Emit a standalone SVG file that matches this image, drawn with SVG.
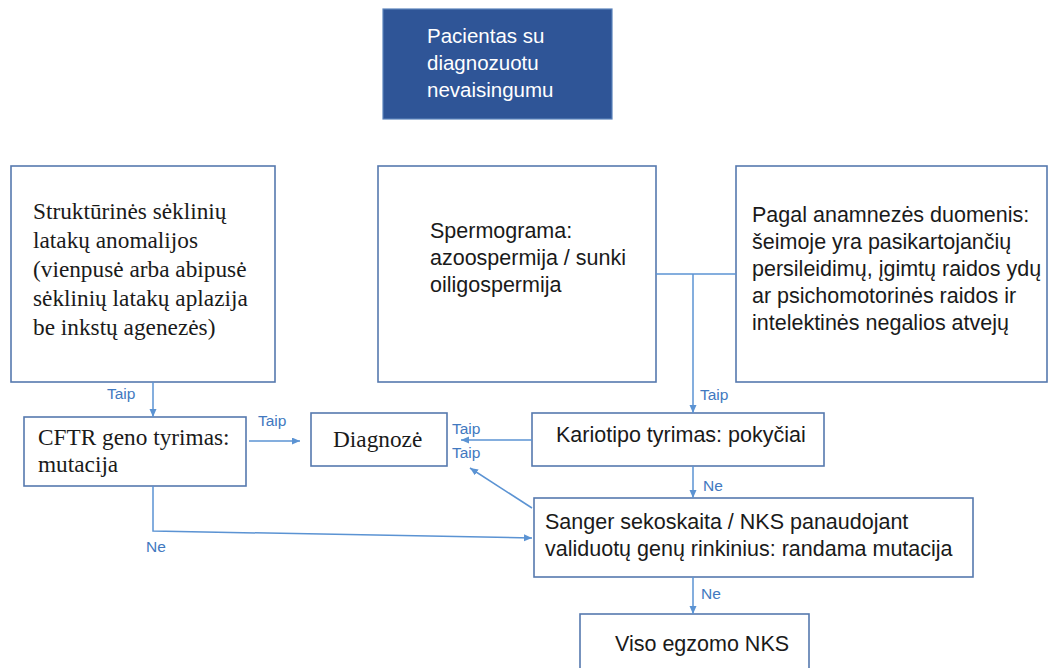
<svg xmlns="http://www.w3.org/2000/svg" width="1049" height="668" viewBox="0 0 1049 668">
<defs>
<style>
.box{fill:#ffffff;stroke:#5679AE;stroke-width:1.6}
.top{fill:#2F5597;stroke:#5B83BB;stroke-width:1.2}
.sans{font-family:"Liberation Sans",Arial,sans-serif;font-size:21.5px;fill:#1a1a1a}
.serif{font-family:"Liberation Serif","Times New Roman",serif;font-size:23.3px;fill:#1a1a1a}
.white{font-family:"Liberation Sans",Arial,sans-serif;font-size:20.5px;fill:#ffffff}
.lbl{font-family:"Liberation Sans",Arial,sans-serif;font-size:15.5px;fill:#4279C0}
.ln{fill:none;stroke:#5B93D3;stroke-width:1.5}
</style>
<marker id="ah" markerUnits="userSpaceOnUse" markerWidth="9" markerHeight="8" refX="8" refY="3.5" orient="auto">
<path d="M0,0 L8,3.5 L0,7 z" fill="#5B93D3"/>
</marker>
</defs>
<rect width="1049" height="668" fill="#ffffff"/>

<g id="node-pacientas">
<rect class="top" x="383" y="9" width="229" height="110"/>
<text class="white" x="427" y="43">Pacientas su</text>
<text class="white" x="427" y="70">diagnozuotu</text>
<text class="white" x="427" y="97">nevaisingumu</text>
</g>

<g id="node-strukturines">
<rect class="box" x="11" y="166" width="264" height="216"/>
<text class="serif" x="33" y="219">Struktūrinės sėklinių</text>
<text class="serif" x="33" y="248">latakų anomalijos</text>
<text class="serif" x="33" y="277">(vienpusė arba abipusė</text>
<text class="serif" x="33" y="306">sėklinių latakų aplazija</text>
<text class="serif" x="33" y="335">be inkstų agenezės)</text>
</g>

<g id="node-spermograma">
<rect class="box" x="378" y="166" width="278" height="216"/>
<text class="sans" x="430" y="238">Spermograma:</text>
<text class="sans" x="430" y="265">azoospermija / sunki</text>
<text class="sans" x="430" y="292">oiligospermija</text>
</g>

<g id="node-anamneze">
<rect class="box" x="736" y="166" width="311" height="216"/>
<text class="sans" x="752" y="222">Pagal anamnezės duomenis:</text>
<text class="sans" x="752" y="249">šeimoje yra pasikartojančių</text>
<text class="sans" x="752" y="276">persileidimų, įgimtų raidos ydų</text>
<text class="sans" x="752" y="303">ar psichomotorinės raidos ir</text>
<text class="sans" x="752" y="330">intelektinės negalios atvejų</text>
</g>

<g id="node-cftr">
<rect class="box" x="24" y="417" width="222" height="69"/>
<text class="serif" x="38" y="445">CFTR geno tyrimas:</text>
<text class="serif" x="38" y="472">mutacija</text>
</g>

<g id="node-diagnoze">
<rect class="box" x="311" y="413" width="136" height="53"/>
<text class="serif" x="333" y="447">Diagnozė</text>
</g>

<g id="node-kariotipo">
<rect class="box" x="532" y="413" width="292" height="53"/>
<text class="sans" x="556" y="442">Kariotipo tyrimas: pokyčiai</text>
</g>

<g id="node-sanger">
<rect class="box" x="534" y="498" width="439" height="79"/>
<text class="sans" x="545" y="529">Sanger sekoskaita / NKS panaudojant</text>
<text class="sans" x="545" y="556">validuotų genų rinkinius: randama mutacija</text>
</g>

<g id="node-viso">
<rect class="box" x="580" y="614" width="229" height="60"/>
<text class="sans" x="615" y="651">Viso egzomo NKS</text>
</g>

<g id="connectors">
<line class="ln" x1="656" y1="274" x2="736" y2="274"/>
<line class="ln" x1="693" y1="274" x2="693" y2="413" marker-end="url(#ah)"/>
<line class="ln" x1="153" y1="382" x2="153" y2="417" marker-end="url(#ah)"/>
<line class="ln" x1="249" y1="441" x2="300" y2="441" marker-end="url(#ah)"/>
<line class="ln" x1="532" y1="440" x2="461" y2="440" marker-end="url(#ah)"/>
<line class="ln" x1="532" y1="508" x2="470" y2="468" marker-end="url(#ah)"/>
<polyline class="ln" points="153,486 153,531 532,538" marker-end="url(#ah)"/>
<line class="ln" x1="693" y1="466" x2="693" y2="498" marker-end="url(#ah)"/>
<line class="ln" x1="693" y1="577" x2="693" y2="614" marker-end="url(#ah)"/>
<text class="lbl" x="107" y="399">Taip</text>
<text class="lbl" x="258" y="426">Taip</text>
<text class="lbl" x="452" y="434">Taip</text>
<text class="lbl" x="452" y="458">Taip</text>
<text class="lbl" x="700" y="400">Taip</text>
<text class="lbl" x="703" y="491">Ne</text>
<text class="lbl" x="146" y="552">Ne</text>
<text class="lbl" x="701" y="599">Ne</text>
</g>
</svg>
